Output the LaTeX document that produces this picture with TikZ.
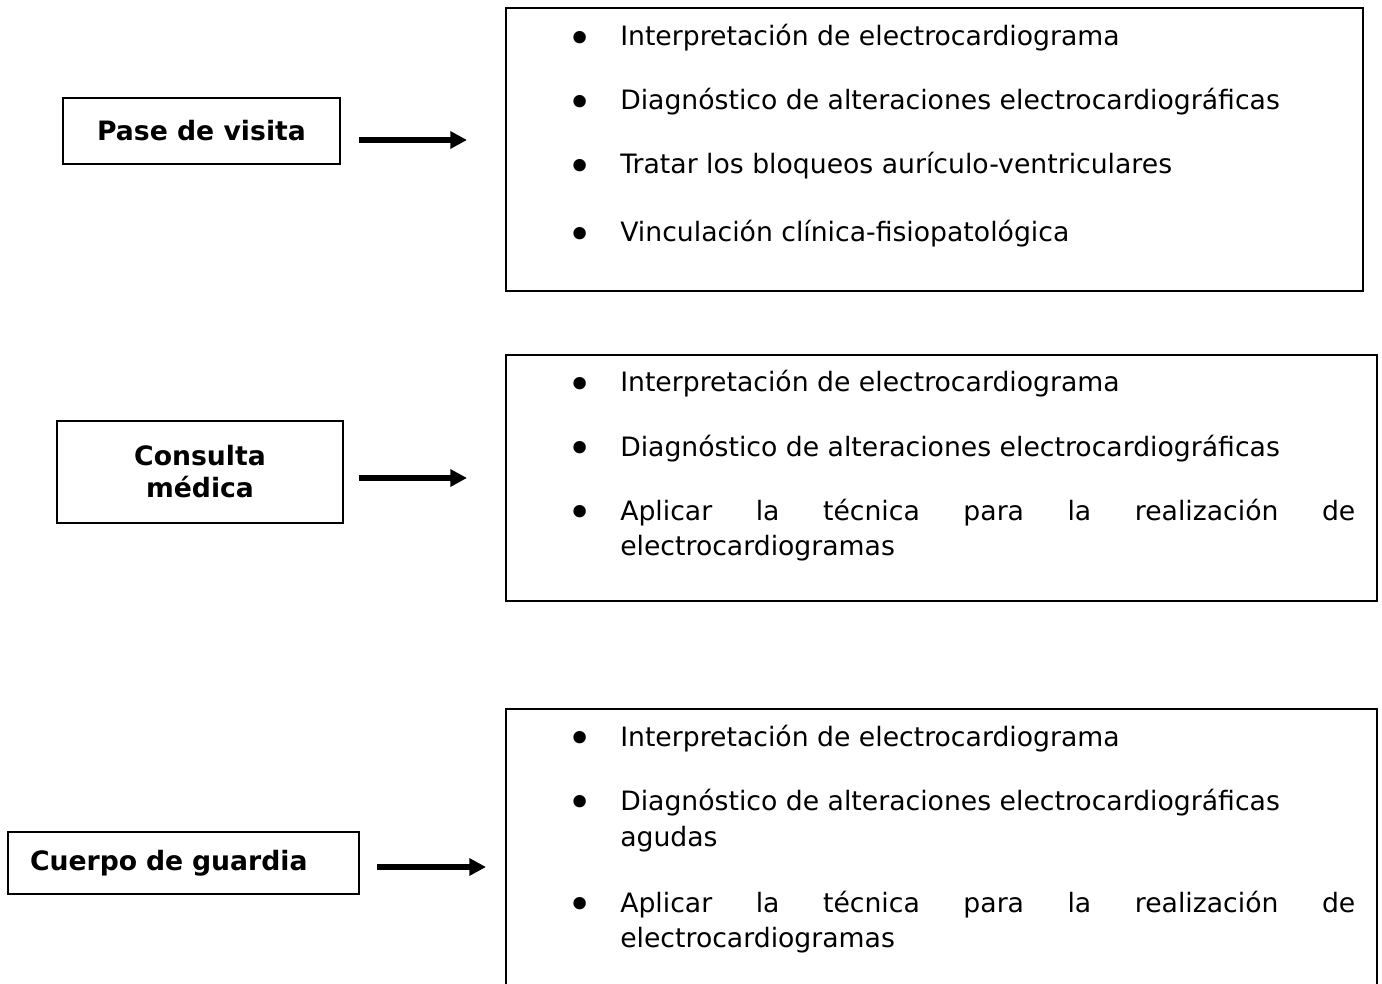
\documentclass[tikz,border=0pt]{standalone}
\usepackage{fontspec}
\setmainfont{DejaVu Sans}
\usetikzlibrary{arrows.meta}

\tikzset{
  caja/.style={draw, line width=1.4pt, inner sep=0pt},
  etiqueta/.style={font=\fontsize{20}{24}\selectfont\bfseries, align=center},
  linea/.style={anchor=base west, inner sep=0pt, font=\fontsize{20}{24}\selectfont},
  vineta/.style={inner sep=0pt, font=\fontsize{32}{32}\selectfont},
  flecha/.style={line width=4pt, -{Triangle[length=12.5pt,width=12.5pt]}}
}

\begin{document}
\begin{tikzpicture}[x=0.75pt,y=0.75pt,yscale=-1,xscale=1]
			\path[use as bounding box, clip] (0,0) rectangle (1382,984);
			
			% Left boxes
			\node [caja, etiqueta, minimum width=207.75pt, minimum height=49.5pt] (pase) at (201.5,131) {Pase de visita};
			\node [caja, etiqueta, minimum width=214.5pt, minimum height=76.5pt] (consulta) at (200,472) {Consulta\\médica};
			\node [caja, etiqueta, minimum width=263.25pt, minimum height=46.5pt, text width=230.25pt, align=left] (guardia) at (183.5,863) {Cuerpo de guardia};
			
			% Right boxes
			\node [caja, anchor=north west, minimum width=642.75pt, minimum height=212.25pt] (lista1) at (505,7) {};
			\node [caja, anchor=north west, minimum width=653.25pt, minimum height=184.5pt] (lista2) at (505,354) {};
			\node [caja, anchor=north west, minimum width=653.25pt, minimum height=220pt] (lista3) at (505,708) {};
			
			%Straight Lines
			\coordinate (f1a) at (359,140);
			\coordinate (f1b) at (467,140);
			\draw [flecha] (f1a) -- (f1b);
			%Straight Lines
			\coordinate (f2a) at (359,478);
			\coordinate (f2b) at (467,478);
			\draw [flecha] (f2a) -- (f2b);
			%Straight Lines
			\coordinate (f3a) at (377,867);
			\coordinate (f3b) at (486,867);
			\draw [flecha] (f3a) -- (f3b);
			
			% Text Node
			\node [vineta] (v11) at (580,42) {•};
			\node [linea] (t11) at (620,46) {Interpretación de electrocardiograma};
			\node [vineta] (v12) at (580,106) {•};
			\node [linea] (t12) at (620,110) {Diagnóstico de alteraciones electrocardiográficas};
			\node [vineta] (v13) at (580,170) {•};
			\node [linea] (t13) at (620,174) {Tratar los bloqueos aurículo-ventriculares};
			\node [vineta] (v14) at (580,238) {•};
			\node [linea] (t14) at (620,242) {Vinculación clínica-fisiopatológica};
			
			% Text Node
			\node [vineta] (v21) at (580,388) {•};
			\node [linea] (t21) at (620,392) {Interpretación de electrocardiograma};
			\node [vineta] (v22) at (580,452) {•};
			\node [linea] (t22) at (620,456) {Diagnóstico de alteraciones electrocardiográficas};
			\node [vineta] (v23) at (580,516) {•};
			\node [linea] (t23) at (620,520) {\makebox[551.25pt][s]{Aplicar la técnica para la realización de}};
			\node [linea] (t23b) at (620,555) {electrocardiogramas};
			
			% Text Node
			\node [vineta] (v31) at (580,742) {•};
			\node [linea] (t31) at (620,746) {Interpretación de electrocardiograma};
			\node [vineta] (v32) at (580,806) {•};
			\node [linea] (t32) at (620,810) {Diagnóstico de alteraciones electrocardiográficas};
			\node [linea] (t32b) at (620,846) {agudas};
			\node [vineta] (v33) at (580,908) {•};
			\node [linea] (t33) at (620,912) {\makebox[551.25pt][s]{Aplicar la técnica para la realización de}};
			\node [linea] (t33b) at (620,947) {electrocardiogramas};
			
		\end{tikzpicture}
\end{document}
